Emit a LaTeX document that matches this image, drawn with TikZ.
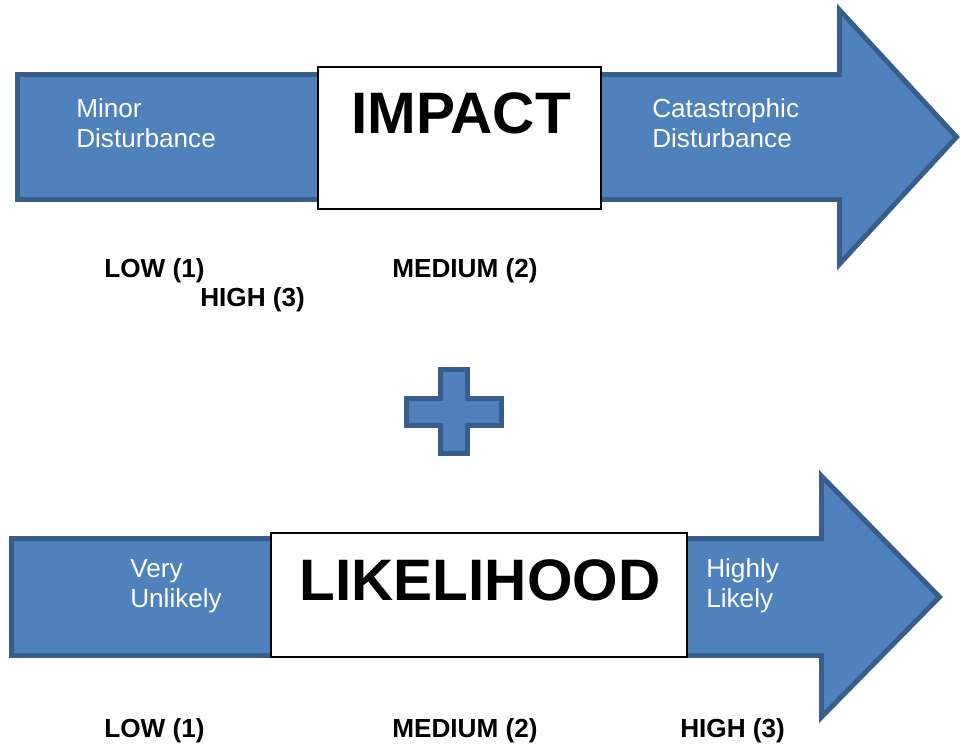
\documentclass[tikz,border=0pt]{standalone}
\usepackage{fontspec}
\setmainfont{Liberation Sans}
\usetikzlibrary{positioning}
\definecolor{arrowfill}{HTML}{4F81BD}
\definecolor{arrowline}{HTML}{385D8A}

\begin{document}
\begin{tikzpicture}[x=0.025cm, y=-0.025cm]
\tikzstyle{bigarrow}=[fill=arrowfill, draw=arrowline, line width=3.5pt, line join=miter]
\tikzstyle{box}=[rectangle, draw=black, fill=white, line width=0.9pt, inner sep=0pt]
\tikzstyle{headline}=[font=\fontsize{41.6}{48}\selectfont\bfseries, inner sep=0pt]
\tikzstyle{sidetext}=[text=white, align=left, font=\fontsize{18.6}{21.3}\selectfont, inner sep=0pt]
\tikzstyle{rating}=[font=\fontsize{18.6}{21.3}\selectfont\bfseries, inner sep=0pt]
    \useasboundingbox (0,0) rectangle (960,744);
    % impact
    \draw[bigarrow] (17.5,74.5) -- (839.5,74.5) -- (839.5,10) -- (956.5,137)
        -- (839.5,264) -- (839.5,199.5) -- (17.5,199.5) -- cycle;
    \node[box, minimum width=7.075cm, minimum height=3.55cm] (impact) at (459.5,138) { };
    \node[headline, anchor=base] (impacttxt) at (461,133) {IMPACT};
    \node[sidetext, anchor=base west] (minor) at (76,147) {Minor\\Disturbance};
    \node[sidetext, anchor=base west] (catastrophic) at (652,147) {Catastrophic\\Disturbance};
    \node[rating, anchor=base west] (lowa) at (104,277) {LOW (1)};
    \node[rating, anchor=base west] (mediuma) at (392,277) {MEDIUM (2)};
    \node[rating, anchor=base west] (higha) at (200,306) {HIGH (3)};
    % plus
    \draw[bigarrow] (440.5,369.5) -- (467.5,369.5) -- (467.5,398.5) -- (501.5,398.5)
        -- (501.5,425.5) -- (467.5,425.5) -- (467.5,453.5) -- (440.5,453.5)
        -- (440.5,425.5) -- (406.5,425.5) -- (406.5,398.5) -- (440.5,398.5) -- cycle;
    % likelihood
    \draw[bigarrow] (11.5,538.5) -- (821.5,538.5) -- (821.5,476) -- (939.5,597)
        -- (821.5,717) -- (821.5,655.5) -- (11.5,655.5) -- cycle;
    \node[box, minimum width=10.4cm, minimum height=3.1cm] (likelihood) at (479,595) { };
    \node[headline, anchor=base] (likelihoodtxt) at (480,600) {LIKELIHOOD};
    \node[sidetext, anchor=base west] (unlikely) at (130,607) {Very\\Unlikely};
    \node[sidetext, anchor=base west] (likely) at (706,607) {Highly\\Likely};
    \node[rating, anchor=base west] (lowb) at (104,737) {LOW (1)};
    \node[rating, anchor=base west] (mediumb) at (392,737) {MEDIUM (2)};
    \node[rating, anchor=base west] (highb) at (680,737) {HIGH (3)};
\end{tikzpicture}
\end{document}
